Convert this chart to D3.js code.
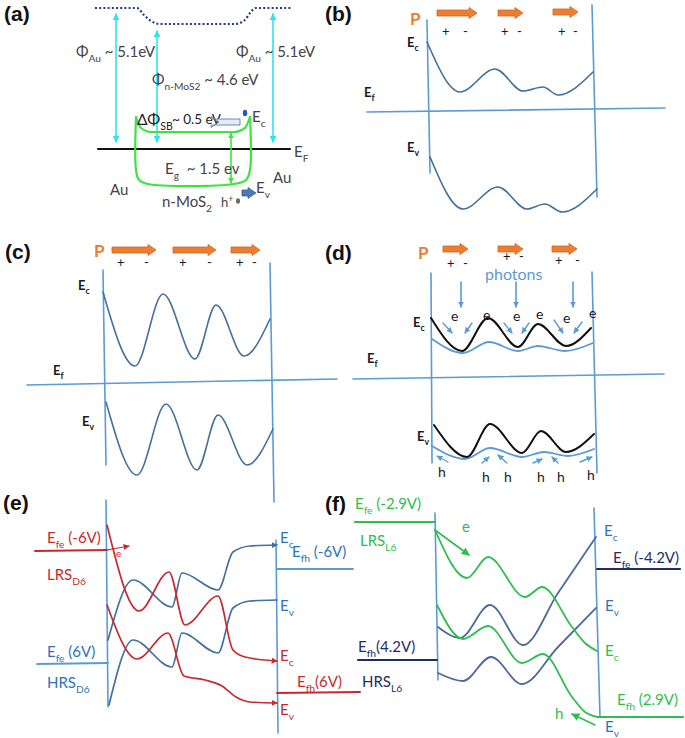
<!DOCTYPE html>
<html>
<head>
<meta charset="utf-8">
<script src="https://cdn.jsdelivr.net/npm/d3@7"></script>
<style>
  body { margin: 0; background: #fff; }
  svg { display: block; }
  text { white-space: pre; }
</style>
</head>
<body>
<div id="fig"></div>
<script>
// panel origins (pixels) and panel-local coordinates for everything below
const origins = {a: [0, 0], b: [320, 0], c: [0, 235], d: [320, 235], e: [0, 490], f: [320, 490]};

// (a) band alignment Au / n-MoS2 / Au
const aVacuum = [[95,8],[137,8],[144,15],[151,21],[160,24],[235,24],[245,20],[250,13],[256,8],[292,8]];
const aWork = [[116,14,142],[157,31,142],[273,14,142]];
const aFermi = [[98,149],[290,149]];
const aCond = [[136,117],[141,128],[151,132],[234,132],[245,128],[250,117]];
const aBand = [[136,117],[136,170],[139,180],[148,184],[234,184],[246,180],[250,170],[250,117]];
const aGap = [[231,133],[231,183]];
const aText = [[76,57,"Φ_{Au} ~ 5.1eV"],[236,57,"Φ_{Au} ~ 5.1eV"],[152,85,"Φ_{n-MoS2} ~ 4.6 eV"],
  [165,174,"E_{g}  ~ 1.5 ev"],[110,195,"Au"],[273,183,"Au"],[162,207,"n-MoS_{2}"],
  [252,122,"E_{c}"],[294,157,"E_{F}"],[256,193,"E_{v}"]];
const aHole = [[221,207,"h^{+}"]];
const aBarrier = [[137,125,"ΔΦ_{SB}"]];
const aBarrierValue = [[172,124,"~ 0.5 eV"]];

// (b) weak polarisation
const bArrows = [[117,157,13],[178,203,13],[233,258,12]];
const bSigns = [[122,36,"+"],[143,36,"-"],[181,36,"+"],[197,36,"-"],[238,36,"+"],[253,36,"-"]];
const bLeft = [[107,20],[110,173]];
const bRight = [[272,5],[277,197]];
const bFermi = [[47,112],[345,108]];
const bCond = [[107,42],[140,92],[175,69],[203,91],[223,87],[238,95],[273,72]];
const bVal = [[110,157],[143,209],[178,187],[207,209],[225,204],[242,212],[277,189]];
const bText = [[87,47,"E_{c}"],[44,97,"E_{f}"],[87,152,"E_{v}"]];

// (c) strong polarisation
const cArrows = [[112,156,15],[173,216,15],[231,260,15]];
const cSigns = [[117,32,"+"],[144,32,"-"],[179,32,"+"],[207,32,"-"],[236,32,"+"],[252,32,"-"]];
const cLeft = [[103,35],[106,230]];
const cRight = [[270,28],[274,267]];
const cFermi = [[27,150],[337,144]];
const cCond = [[103,57],[135,131],[163,59],[195,124],[216,70],[244,121],[270,84]];
const cVal = [[106,167],[137,240],[166,169],[197,235],[218,180],[247,230],[273,194]];
const cText = [[78,55,"E_{c}"],[53,140,"E_{f}"],[82,191,"E_{v}"]];

// (d) under illumination
const dArrows = [[123,148,14],[178,203,14],[232,257,14]];
const dSigns = [[127,33,"+"],[143,33,"-"],[183,26,"+"],[199,26,"-"],[235,30,"+"],[255,30,"-"]];
const dLeft = [[111,38],[112,228]];
const dRight = [[272,37],[277,238]];
const dFermi = [[33,144],[344,139]];
const dPhotons = [141,196,253];
const dCondDark = [[111,83],[142,116],[168,83],[198,112],[218,89],[246,111],[271,93]];
const dCondLight = [[112,104],[143,118],[169,107],[198,116],[218,111],[245,116],[273,108]];
const dValDark = [[114,190],[147,222],[170,189],[202,218],[221,196],[246,217],[274,199]];
const dValLight = [[112,211],[145,224],[170,213],[202,222],[224,217],[248,221],[274,214]];
const dElec = [[131,86,"e"],[163,85,"e"],[193,86,"e"],[216,84,"e"],[243,88,"e"],[269,83,"e"]];
const dElecMoves = [[[123,88],[132,98]],[[152,88],[145,98]],[[184,88],[192,98]],[[209,88],[202,98]],[[234,85],[243,98]],[[262,87],[254,98]]];
const dHole = [[118,242,"h"],[162,247,"h"],[184,247,"h"],[217,247,"h"],[237,247,"h"],[267,245,"h"]];
const dHoleMoves = [[[128,227],[117,221]],[[162,228],[169,222]],[[187,228],[178,220]],[[213,228],[222,224]],[[238,228],[232,222]],[[260,227],[272,222]]];
const dText = [[93,92,"E_{c}"],[47,128,"E_{f}"],[97,206,"E_{v}"]];

// (e) D6 device, LRS / HRS
const eLeft = [[106,10],[108,217]];
const eRight = [[276,50],[278,243]];
const eLrsFe = [[35,61],[107,60]];
const eHrsFe = [[37,174],[108,173]];
const eFhNeg = [[277,79],[353,79]];
const eFhPos = [[277,203],[360,202]];
const eLrsCond = [[107,35],[139,121],[169,82],[185,135],[218,106],[233,160],[245,167],[277,171]];
const eLrsVal = [[107,115],[137,169],[168,143],[184,186],[205,190],[222,196],[236,207],[250,212],[277,213]];
const eHrsCond = [[108,150],[133,90],[172,117],[182,83],[218,100],[233,62],[250,56],[277,55]];
const eHrsVal = [[109,215],[133,150],[172,177],[182,143],[218,163],[233,118],[250,111],[277,110]];
const eElecMove = [[107,60],[129,56]];
const eRedText = [[47,53,"E_{fe} (-6V)"],[47,90,"LRS_{D6}"],[280,171,"E_{c}"],[297,197,"E_{fh}(6V)"],[280,225,"E_{v}"]];
const eBlueText = [[47,167,"E_{fe} (6V)"],[47,198,"HRS_{D6}"],[280,53,"E_{c}"],[292,67,"E_{fh} (-6V)"],[280,121,"E_{v}"]];

// (f) L6 device, LRS / HRS
const fLeft = [[115,23],[118,190]];
const fRight = [[274,18],[280,227]];
const fLrsFe = [[35,32],[115,32]];
const fHrsFh = [[38,170],[117,170]];
const fFeNeg = [[277,79],[360,79]];
const fFhPos = [[278,227],[363,227]];
const fLrsCond = [[115,40],[147,88],[168,67],[205,107],[222,97],[252,137],[265,153],[277,161]];
const fLrsVal = [[117,115],[143,149],[168,136],[202,173],[223,164],[252,207],[265,222],[278,227]];
const fHrsCond = [[118,137],[140,148],[170,115],[203,155],[238,103],[276,47]];
const fHrsVal = [[118,183],[143,191],[171,167],[202,194],[238,157],[276,118]];
const fElecMove = [[115,40],[149,65]];
const fHoleMove = [[275,235],[252,224]];
const fGreenText = [[35,19,"E_{fe} (-2.9V)"],[40,56,"LRS_{L6}"],[285,166,"E_{c}"],[297,215,"E_{fh} (2.9V)"],[142,42,"e"],[235,229,"h"]];
const fNavyText = [[38,162,"E_{fh}(4.2V)"],[42,197,"HRS_{L6}"],[293,73,"E_{fe} (-4.2V)"]];
const fBlueText = [[284,46,"E_{c}"],[285,121,"E_{v}"],[285,242,"E_{v}"]];

const panelTags = [["a",4,21,"(a)"],["b",5,21,"(b)"],["c",5,24,"(c)"],["d",5,25,"(d)"],["e",3,20,"(e)"],["f",5,21,"(f)"]];

const col = {axis:"#5b9bd5", curve:"#41719c", orange:"#ed7d31", red:"#c62a2f", green:"#2fbd4e",
  navy:"#1f2d66", steel:"#4a6b9c", cyan:"#2fe3ef", lime:"#3fe23f", ink:"#1a1a1a", grey:"#444", label:"#2e75b6"};
const font = "Lato, 'Open Sans', sans-serif";

const W = 685, H = 738;
const svg = d3.select("#fig").append("svg")
  .attr("width", W).attr("height", H)
  .attr("viewBox", [0, 0, W, H]);
const defs = svg.append("defs");

//marqueurs de flèches
function marker(id, color, size) {
  defs.append("marker")
    .attr("id", id)
    .attr("viewBox", "0 0 10 10")
    .attr("refX", 9).attr("refY", 5)
    .attr("markerWidth", size).attr("markerHeight", size)
    .attr("markerUnits", "userSpaceOnUse")
    .attr("orient", "auto-start-reverse")
    .append("path").attr("d", "M0,0L10,5L0,10z").attr("fill", color);
}
marker("m-cyan", col.cyan, 7);
marker("m-lime", col.lime, 6);
marker("m-axis", col.axis, 6);
marker("m-red", col.red, 6);
marker("m-blue", col.curve, 6);
marker("m-green", col.green, 8);

function panel(key) {
  const [ox, oy] = origins[key];
  return {
    x: d3.scaleLinear().domain([0, 340]).range([ox, ox + 340]),
    y: d3.scaleLinear().domain([0, 250]).range([oy, oy + 250]),
    g: svg.append("g").attr("class", "panel-" + key)
  };
}

function curve(p, pts, color, w, opt = {}) {
  const line = d3.line()
    .x(d => p.x(d[0]))
    .y(d => p.y(d[1]))
    .curve(opt.curve || d3.curveMonotoneX);
  const path = p.g.append("path")
    .attr("d", line(pts))
    .attr("fill", "none")
    .attr("stroke", color)
    .attr("stroke-width", w)
    .attr("stroke-linecap", "round");
  if (opt.end) path.attr("marker-end", `url(#${opt.end})`);
  if (opt.start) path.attr("marker-start", `url(#${opt.start})`);
  if (opt.dash) path.attr("stroke-dasharray", opt.dash).attr("stroke-linecap", "butt");
  return path;
}

function seg(p, pts, color, w, opt = {}) {
  return curve(p, pts, color, w, Object.assign({curve: d3.curveLinear}, opt));
}

// texte avec indices _{..} et exposants ^{..}
function addText(p, items, o) {
  items.forEach(([x, y, str]) => {
    const t = p.g.append("text")
      .attr("x", p.x(x)).attr("y", p.y(y))
      .attr("fill", o.color)
      .attr("font-size", o.size)
      .attr("font-family", o.family || font)
      .attr("font-weight", o.weight || "normal")
      .attr("text-anchor", o.anchor || "start");
    let off = 0;
    str.split(/(_\{[^}]*\}|\^\{[^}]*\})/).filter(s => s.length).forEach(s => {
      let target = 0, txt = s, size = o.size;
      if (s.startsWith("_{")) { target = o.size * 0.3; txt = s.slice(2, -1); size = o.size * 0.68; }
      else if (s.startsWith("^{")) { target = -o.size * 0.35; txt = s.slice(2, -1); size = o.size * 0.68; }
      t.append("tspan").attr("dy", target - off).attr("font-size", size).text(txt);
      off = target;
    });
  });
}

function blockArrow(p, [x1, x2, yc], fill, stroke) {
  const bh = 3, hh = 5.5, hl = 8;
  const pts = [[x1, yc - bh], [x2 - hl, yc - bh], [x2 - hl, yc - hh], [x2, yc],
               [x2 - hl, yc + hh], [x2 - hl, yc + bh], [x1, yc + bh]];
  p.g.append("path")
    .attr("d", d3.line().x(d => p.x(d[0])).y(d => p.y(d[1]))(pts) + "Z")
    .attr("fill", fill).attr("stroke", stroke).attr("stroke-width", 0.8);
}

//Panneau (a)
const pa = panel("a");
curve(pa, aVacuum, "#1f3a8a", 2.2, {dash: "2,2.2"});
aWork.forEach(([x, y1, y2]) => seg(pa, [[x, y1], [x, y2]], col.cyan, 1.6, {start: "m-cyan", end: "m-cyan"}));
seg(pa, aFermi, "#111", 2.2);
curve(pa, aCond, col.lime, 2.2);
curve(pa, aBand, col.lime, 2.2, {curve: d3.curveCatmullRom.alpha(0.5)});
seg(pa, aGap, col.lime, 1.6, {start: "m-lime", end: "m-lime"});
addText(pa, aText, {color: col.grey, size: 15});
addText(pa, aHole, {color: col.grey, size: 13});
addText(pa, aBarrier, {color: "#222", size: 15.5});
addText(pa, aBarrierValue, {color: "#222", size: 13.5});
// électron, trou et petites flèches
pa.g.append("ellipse").attr("cx", pa.x(245)).attr("cy", pa.y(113)).attr("rx", 2.2).attr("ry", 3.2).attr("fill", "#2456c8");
pa.g.append("ellipse").attr("cx", pa.x(238)).attr("cy", pa.y(201)).attr("rx", 2).attr("ry", 2.8).attr("fill", "#666");
blockArrow(pa, [240, 219, 122], "#e4ebf6", "#4a6fa5");
blockArrow(pa, [242, 256, 193], "#4a7ab0", "#3d6494");

//Panneaux (b), (c), (d)
function polarised(p, arrows, signs, left, right, fermi, labels) {
  arrows.forEach(a => blockArrow(p, a, col.orange, "#d3641e"));
  addText(p, signs, {color: col.ink, size: 13});
  seg(p, left, col.axis, 1.6);
  seg(p, right, col.axis, 1.6);
  seg(p, fermi, col.axis, 1.6);
  addText(p, labels, {color: col.ink, size: 13, weight: "bold"});
}

const pb = panel("b");
polarised(pb, bArrows, bSigns, bLeft, bRight, bFermi, bText);
addText(pb, [[90,25,"P"]], {color: col.orange, size: 17, weight: "bold"});
curve(pb, bCond, col.curve, 1.6);
curve(pb, bVal, col.curve, 1.6);

const pc = panel("c");
polarised(pc, cArrows, cSigns, cLeft, cRight, cFermi, cText);
addText(pc, [[94,22,"P"]], {color: col.orange, size: 17, weight: "bold"});
curve(pc, cCond, col.curve, 1.6);
curve(pc, cVal, col.curve, 1.6);

const pd = panel("d");
polarised(pd, dArrows, dSigns, dLeft, dRight, dFermi, dText);
addText(pd, [[98,24,"P"]], {color: col.orange, size: 17, weight: "bold"});
addText(pd, [[165,45,"photons"]], {color: col.axis, size: 16});
dPhotons.forEach(x => seg(pd, [[x, 47], [x, 72]], col.axis, 1.6, {end: "m-axis"}));
curve(pd, dCondLight, col.axis, 1.8);
curve(pd, dCondDark, "#111", 2);
curve(pd, dValLight, col.axis, 1.8);
curve(pd, dValDark, "#111", 2);
addText(pd, dElec, {color: col.ink, size: 14});
addText(pd, dHole, {color: col.ink, size: 14});
dElecMoves.forEach(m => seg(pd, m, col.axis, 1.4, {end: "m-axis"}));
dHoleMoves.forEach(m => seg(pd, m, col.axis, 1.4, {end: "m-axis"}));

//Panneau (e)
const pe = panel("e");
seg(pe, eLeft, col.axis, 1.6);
seg(pe, eRight, col.axis, 1.6);
seg(pe, eLrsFe, col.red, 2);
seg(pe, eFhPos, col.red, 2);
seg(pe, eHrsFe, col.axis, 1.8);
seg(pe, eFhNeg, col.axis, 1.8);
curve(pe, eHrsCond, col.curve, 1.7, {end: "m-blue"});
curve(pe, eHrsVal, col.curve, 1.7);
curve(pe, eLrsCond, col.red, 1.7, {end: "m-red"});
curve(pe, eLrsVal, col.red, 1.7, {end: "m-red"});
seg(pe, eElecMove, col.red, 1.2, {end: "m-red"});
addText(pe, [[116,67,"e"]], {color: col.red, size: 10});
addText(pe, eRedText, {color: col.red, size: 15});
addText(pe, eBlueText, {color: col.label, size: 15});

//Panneau (f)
const pf = panel("f");
seg(pf, fLeft, col.axis, 1.6);
seg(pf, fRight, col.axis, 1.6);
seg(pf, fLrsFe, col.green, 2.2);
seg(pf, fFhPos, col.green, 2.2);
seg(pf, fHrsFh, col.navy, 2.2);
seg(pf, fFeNeg, col.navy, 2.2);
curve(pf, fHrsCond, col.steel, 1.8);
curve(pf, fHrsVal, col.steel, 1.8);
curve(pf, fLrsCond, col.green, 1.8);
curve(pf, fLrsVal, col.green, 1.8);
seg(pf, fElecMove, col.green, 1.6, {end: "m-green"});
seg(pf, fHoleMove, col.green, 1.6, {end: "m-green"});
addText(pf, fGreenText, {color: col.green, size: 15});
addText(pf, fNavyText, {color: col.navy, size: 15});
addText(pf, fBlueText, {color: col.label, size: 15});

//Étiquettes des panneaux
panelTags.forEach(([k, x, y, t]) => {
  const p = panel(k);
  addText(p, [[x, y, t]], {color: "#111", size: 21, weight: "bold", family: "'Liberation Sans', Arial, sans-serif"});
});
</script>
</body>
</html>
